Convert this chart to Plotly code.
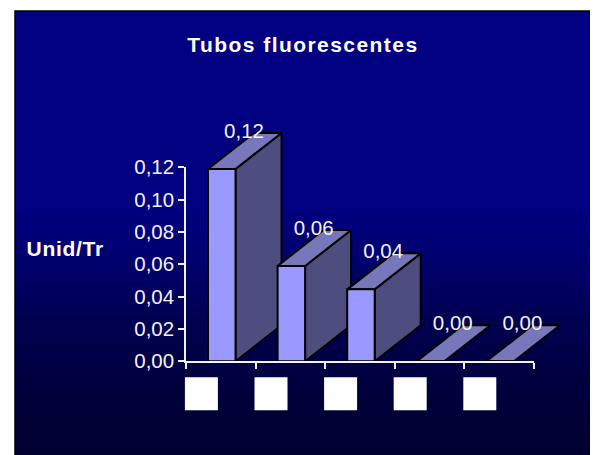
import plotly.graph_objects as go

# The page body adds an 8 px margin round the figure
PAGE = 8
W, H = 598 - PAGE, 455 - PAGE
categories = [0, 1, 2, 3, 4]
values = [0.119, 0.059, 0.0445, 0.0, 0.0]
value_labels = ["0,12", "0,06", "0,04", "0,00", "0,00"]
y_ticks = [0, 0.02, 0.04, 0.06, 0.08, 0.10, 0.12]
x_ticks = [0, 1, 2, 3, 4, 5]
title_text = "Tubos fluorescentes"
y_title = "Unid/Tr"

PX_X0, PX_X1, PX_Y0, PX_Y1 = 186 - PAGE, 534 - PAGE, 361.3 - PAGE, 167.3 - PAGE
PANEL_L, PANEL_R, PANEL_T = 15 - PAGE, 596 - PAGE, 11 - PAGE
UX = (PX_X1 - PX_X0) / 5
UY = (PX_Y0 - PX_Y1) / 0.12
DX, DY = 46 / UX, 36 / UY
BAR_L, BAR_W = 22 / UX, 27.5 / UX

FRONT, SIDE, TOP = "#9999FF", "#4D4D80", "#7777BB"
ax_off = dict(visible=False, fixedrange=True, automargin=False)

fig = go.Figure()

# gradient panel
rows = 80
fig.add_trace(go.Heatmap(
    x=[PANEL_L, PANEL_R], y=[PANEL_T + (H - PANEL_T) * h / rows for h in range(rows + 1)],
    z=[[h / (rows - 1)] for h in range(rows)],
    colorscale=[[0, "#000080"], [0.44, "#000080"], [0.55, "#000070"], [0.70, "#000050"],
                [0.88, "#00003A"], [1, "#000030"]],
    showscale=False, hoverinfo="skip", xaxis="x", yaxis="y"))


def poly(xs, ys, fill):
    fig.add_trace(go.Scatter(
        x=xs + xs[:1], y=ys + ys[:1], mode="lines", fill="toself", fillcolor=fill,
        line=dict(color="black", width=2), hoverinfo="skip", showlegend=False,
        xaxis="x2", yaxis="y2"))


for c, v in zip(categories, values):
    l, r = c + BAR_L, c + BAR_L + BAR_W
    poly([r, r + DX, r + DX, r], [0, DY, v + DY, v], SIDE)
    poly([l, r, r + DX, l + DX], [v, v, v + DY, v + DY], TOP)
    poly([l, r, r, l], [0, 0, v, v], FRONT)

# value labels
fig.add_trace(go.Scatter(
    x=[c + BAR_L + 36 / UX for c in categories],
    y=[v + 36.5 / UY for v in values],
    mode="text", text=value_labels,
    textfont=dict(family="Liberation Sans", size=20.5, color="#F2F2F2"),
    hoverinfo="skip", showlegend=False, xaxis="x2", yaxis="y2"))

# category squares (unrendered labels in the original)
fig.add_trace(go.Scatter(
    x=[c + (201.4 - 186) / UX for c in categories],
    y=[-32.5 / UY] * 5,
    mode="markers", marker=dict(symbol="square", size=33, color="white", line=dict(width=0)),
    hoverinfo="skip", showlegend=False, xaxis="x2", yaxis="y2"))

# visible axes on top
fig.add_trace(go.Scatter(x=[0, 5], y=[0, 0.12], mode="markers", marker=dict(opacity=0),
                         hoverinfo="skip", showlegend=False, xaxis="x3", yaxis="y3"))

fig.update_layout(
    template="none",
    width=W, height=H, autosize=False, margin=dict(l=0, r=0, t=0, b=0, pad=0),
    paper_bgcolor="white", plot_bgcolor="rgba(0,0,0,0)", showlegend=False,
    separators=",.",
    xaxis=dict(domain=[0, 1], range=[0, W], **ax_off),
    yaxis=dict(domain=[0, 1], range=[H, 0], **ax_off),
    xaxis2=dict(domain=[0, 1], range=[-PX_X0 / UX, (W - PX_X0) / UX], anchor="y2", **ax_off),
    yaxis2=dict(domain=[0, 1], range=[-(H - PX_Y0) / UY, PX_Y0 / UY], anchor="x2", **ax_off),
    xaxis3=dict(domain=[PX_X0 / W, PX_X1 / W], range=[0, 5], anchor="y3", tickvals=x_ticks,
                ticktext=[""] * 6, ticks="outside", ticklen=6, tickwidth=1.5, tickcolor="#F2F2F2",
                showline=True, linecolor="#F2F2F2", linewidth=1.5, showgrid=False, zeroline=False,
                fixedrange=True, automargin=False),
    yaxis3=dict(domain=[1 - PX_Y0 / H, 1 - PX_Y1 / H], range=[0, 0.12], anchor="x3", tickvals=y_ticks,
                tickformat=".2f", ticks="outside", ticklen=6, tickwidth=1.5, tickcolor="#F2F2F2",
                showline=True, linecolor="#F2F2F2", linewidth=1.5, showgrid=False, zeroline=False,
                tickfont=dict(family="Liberation Sans", size=20.5, color="#F2F2F2"),
                fixedrange=True, automargin=False),
    annotations=[
        dict(text=f"<b>{title_text}</b>", xref="paper", yref="paper", x=(303 - PAGE) / W,
             y=1 - (44 - PAGE) / H, showarrow=False, xanchor="center", yanchor="middle",
             font=dict(family="Liberation Sans", size=21, color="white")),
        dict(text=f"<b>{y_title}</b>", xref="paper", yref="paper", x=(64.5 - PAGE) / W,
             y=1 - (248 - PAGE) / H, showarrow=False, xanchor="center", yanchor="middle",
             font=dict(family="Liberation Sans", size=21, color="white")),
    ],
    shapes=[dict(type="rect", xref="x", yref="y", x0=PANEL_L, x1=PANEL_R, y0=PANEL_T, y1=H + 4,
                 line=dict(color="black", width=1.5), layer="above")],
)

spacing = """
document.querySelectorAll('.annotation-text').forEach(function (t) {
  t.style.letterSpacing = t.textContent.indexOf('Tubos') === 0 ? '1.44px' : '0.7px';
});
"""
fig.write_html("out.html", post_script=spacing)
